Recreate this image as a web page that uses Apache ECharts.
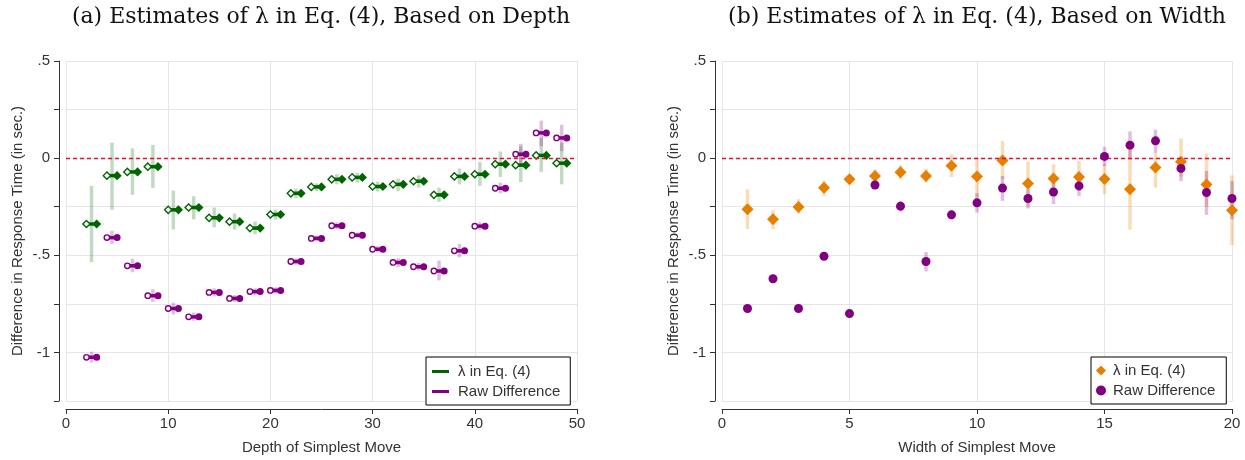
<!DOCTYPE html>
<html><head><meta charset="utf-8">
<script src="https://cdn.jsdelivr.net/npm/echarts@6/dist/echarts.min.js"></script>
<style>html,body{margin:0;padding:0;background:#fff}#main{width:1245px;height:460px}</style>
</head><body><div id="main"></div>
<script>
// ---- Panel (a): Depth ----
const depthX = [2.5,4.5,6.5,8.5,10.5,12.5,14.5,16.5,18.5,20.5,22.5,24.5,26.5,28.5,30.5,32.5,34.5,36.5,38.5,40.5,42.5,44.5,46.5,48.5];
const lambdaDepth   = [-0.339,-0.090,-0.071,-0.044,-0.266,-0.254,-0.307,-0.327,-0.360,-0.290,-0.181,-0.148,-0.109,-0.099,-0.146,-0.135,-0.119,-0.189,-0.094,-0.083,-0.031,-0.036,0.014,-0.026];
const lambdaDepthLo = [-0.535,-0.266,-0.189,-0.153,-0.367,-0.315,-0.356,-0.368,-0.392,-0.317,-0.205,-0.170,-0.135,-0.126,-0.172,-0.169,-0.152,-0.225,-0.135,-0.143,-0.097,-0.123,-0.072,-0.135];
const lambdaDepthHi = [-0.143,0.080,0.050,0.068,-0.167,-0.196,-0.254,-0.285,-0.326,-0.264,-0.157,-0.130,-0.083,-0.075,-0.121,-0.105,-0.089,-0.152,-0.053,-0.020,0.034,0.061,0.104,0.079];
const rawDepth   = [-1.025,-0.409,-0.554,-0.708,-0.774,-0.817,-0.691,-0.722,-0.687,-0.681,-0.532,-0.413,-0.348,-0.397,-0.469,-0.537,-0.559,-0.581,-0.477,-0.350,-0.155,0.020,0.130,0.104];
const rawDepthLo = [-1.052,-0.442,-0.587,-0.740,-0.805,-0.837,-0.712,-0.740,-0.705,-0.697,-0.548,-0.428,-0.365,-0.412,-0.485,-0.560,-0.578,-0.629,-0.510,-0.370,-0.181,-0.032,0.061,0.036];
const rawDepthHi = [-0.996,-0.374,-0.518,-0.675,-0.744,-0.795,-0.670,-0.705,-0.670,-0.665,-0.516,-0.398,-0.330,-0.382,-0.453,-0.515,-0.540,-0.527,-0.442,-0.330,-0.126,0.074,0.193,0.172];

// ---- Panel (b): Width ----
const widthX = [1,2,3,4,5,6,7,8,9,10,11,12,13,14,15,16,17,18,19,20];
const lambdaWidth   = [-0.263,-0.315,-0.251,-0.152,-0.109,-0.092,-0.073,-0.092,-0.039,-0.095,-0.012,-0.130,-0.105,-0.097,-0.107,-0.160,-0.048,-0.018,-0.136,-0.268];
const lambdaWidthLo = [-0.365,-0.365,-0.288,-0.194,-0.135,-0.126,-0.109,-0.126,-0.097,-0.200,-0.110,-0.246,-0.177,-0.169,-0.186,-0.368,-0.152,-0.095,-0.250,-0.447];
const lambdaWidthHi = [-0.160,-0.268,-0.211,-0.114,-0.085,-0.058,-0.036,-0.054,0.019,0.005,0.090,-0.018,-0.032,-0.015,-0.032,0.053,0.027,0.101,0.024,-0.089];
const rawWidth   = [-0.774,-0.621,-0.774,-0.505,-0.800,-0.138,-0.247,-0.532,-0.292,-0.230,-0.154,-0.208,-0.174,-0.143,0.009,0.067,0.089,-0.053,-0.177,-0.208];
const rawWidthLo = [-0.785,-0.632,-0.785,-0.516,-0.811,-0.150,-0.275,-0.583,-0.315,-0.280,-0.220,-0.259,-0.237,-0.194,-0.041,-0.007,0.027,-0.118,-0.292,-0.314];
const rawWidthHi = [-0.763,-0.610,-0.763,-0.494,-0.789,-0.126,-0.220,-0.484,-0.270,-0.181,-0.092,-0.160,-0.126,-0.100,0.058,0.138,0.147,-0.007,-0.066,-0.118];

// ---- Texts & ticks ----
const titleA = '(a) Estimates of \u03bb in Eq. (4), Based on Depth';
const titleB = '(b) Estimates of \u03bb in Eq. (4), Based on Width';
const yTitle = 'Difference in Response Time (in sec.)';
const xTitleA = 'Depth of Simplest Move';
const xTitleB = 'Width of Simplest Move';
const nameLambda = '\u03bb in Eq. (4)';
const nameRaw = 'Raw Difference';
const yTickValues = [0.5, 0, -0.5, -1];
const yTickLabels = ['.5', '0', '-.5', '-1'];

const GREEN = '#006400', PURPLE = '#800080', ORANGE = '#e67e00';
const SANS = 'Liberation Sans, Arial, sans-serif';
const SERIF = 'DejaVu Serif, serif';
const HALF = 0.5; // half-spacing between hollow/filled markers (data units)

function diamondPts(p, r) { return [[p[0], p[1]-r],[p[0]+r, p[1]],[p[0], p[1]+r],[p[0]-r, p[1]]]; }

function ciSeries(xs, lo, hi, color, gi, withRef) {
  const s = {
    type: 'custom', xAxisIndex: gi, yAxisIndex: gi, silent: true, z: 2,
    data: xs.map((x, i) => [x, lo[i], hi[i]]),
    encode: { x: 0, y: [1, 2] },
    renderItem: (params, api) => {
      const a = api.coord([api.value(0), api.value(1)]);
      const b = api.coord([api.value(0), api.value(2)]);
      return { type: 'line', shape: { x1: a[0], y1: a[1], x2: b[0], y2: b[1] }, style: { stroke: color, lineWidth: 3.5 } };
    }
  };
  if (withRef) {
    s.markLine = { silent: true, symbol: 'none', label: { show: false },
      lineStyle: { color: '#dc143c', type: [4, 3], width: 1.3 }, data: [{ yAxis: 0 }] };
  }
  return s;
}

function dumbbell(name, xs, ys, color, shape, gi) {
  return {
    type: 'custom', name, xAxisIndex: gi, yAxisIndex: gi, z: 4, itemStyle: { color },
    data: xs.map((x, i) => [x, ys[i]]), encode: { x: 0, y: 1 },
    renderItem: (params, api) => {
      const c = api.value(0), v = api.value(1);
      const L = api.coord([c - HALF, v]), R = api.coord([c + HALF, v]);
      const ch = [{ type: 'line', shape: { x1: L[0], y1: L[1], x2: R[0], y2: R[1] }, style: { stroke: color, lineWidth: 3.5 } }];
      if (shape === 'diamond') {
        ch.push({ type: 'polygon', shape: { points: diamondPts(L, 3.6) }, style: { fill: '#fff', stroke: color, lineWidth: 1.4 } });
        ch.push({ type: 'polygon', shape: { points: diamondPts(R, 4.6) }, style: { fill: color } });
      } else {
        ch.push({ type: 'circle', shape: { cx: L[0], cy: L[1], r: 2.7 }, style: { fill: '#fff', stroke: color, lineWidth: 1.4 } });
        ch.push({ type: 'circle', shape: { cx: R[0], cy: R[1], r: 3.5 }, style: { fill: color } });
      }
      return { type: 'group', children: ch };
    }
  };
}

function yFmt(v) {
  const i = yTickValues.findIndex(t => Math.abs(t - v) < 1e-9);
  return i >= 0 ? yTickLabels[i] : '';
}

const axisCommon = {
  axisLine: { show: true, onZero: false, lineStyle: { color: '#333', width: 1 } },
  axisTick: { show: true, length: 5, lineStyle: { color: '#333', width: 1 } },
  splitLine: { show: true, lineStyle: { color: '#e6e6e6', width: 1 } },
  nameTextStyle: { fontSize: 15, color: '#333', fontFamily: SANS },
};

function xAxis(gi, max, interval, name) {
  return Object.assign({}, axisCommon, {
    gridIndex: gi, type: 'value', min: 0, max, interval, offset: 8,
    name, nameLocation: 'middle', nameGap: 31,
    axisLabel: { fontSize: 15, color: '#333', margin: 7, fontFamily: SANS },
  });
}
function yAxis(gi) {
  return Object.assign({}, axisCommon, {
    gridIndex: gi, type: 'value', min: -1.25, max: 0.5, interval: 0.25, offset: 7,
    name: yTitle, nameLocation: 'middle', nameGap: 34, nameRotate: 90,
    axisLabel: { fontSize: 15, color: '#333', margin: 9, fontFamily: SANS, formatter: yFmt },
  });
}

const chart = echarts.init(document.getElementById('main'), null, { renderer: 'canvas' });
chart.setOption({
  animation: false,
  backgroundColor: '#fff',
  grid: [
    { left: 66, top: 61, width: 511, height: 342 },
    { left: 722, top: 61, width: 510, height: 342 }
  ],
  xAxis: [xAxis(0, 50, 10, xTitleA), xAxis(1, 20, 5, xTitleB)],
  yAxis: [yAxis(0), yAxis(1)],
  graphic: [
    { type: 'text', x: 321, y: 17, style: { text: titleA, fontSize: 22, fontFamily: SERIF, fill: '#111', align: 'center', verticalAlign: 'middle' } },
    { type: 'text', x: 977, y: 17, style: { text: titleB, fontSize: 22, fontFamily: SERIF, fill: '#111', align: 'center', verticalAlign: 'middle' } }
  ],
  legend: [
    {
      left: 426, top: 357, orient: 'vertical', padding: [7, 10, 6, 6], itemGap: 5,
      itemWidth: 17, itemHeight: 3, borderColor: '#000', borderWidth: 1, backgroundColor: '#fff',
      textStyle: { fontSize: 15, color: '#333', fontFamily: SANS, padding: [0, 0, 0, 4] },
      selectedMode: false,
      data: [
        { name: nameLambda, icon: 'rect', itemStyle: { color: GREEN } },
        { name: nameRaw, icon: 'rect', itemStyle: { color: PURPLE } }
      ]
    },
    {
      left: 1091, top: 357, orient: 'vertical', padding: [6, 11, 6, 5], itemGap: 5,
      itemWidth: 10, itemHeight: 10, borderColor: '#000', borderWidth: 1, backgroundColor: '#fff',
      textStyle: { fontSize: 15, color: '#333', fontFamily: SANS, padding: [0, 0, 0, 2] },
      selectedMode: false,
      data: [
        { name: nameLambda, icon: 'diamond', itemStyle: { color: ORANGE } },
        { name: nameRaw, icon: 'circle', itemStyle: { color: PURPLE } }
      ]
    }
  ],
  series: [
    ciSeries(depthX, lambdaDepthLo, lambdaDepthHi, 'rgba(0,100,0,0.24)', 0, true),
    ciSeries(depthX, rawDepthLo, rawDepthHi, 'rgba(128,0,128,0.25)', 0, false),
    dumbbell(nameLambda, depthX, lambdaDepth, GREEN, 'diamond', 0),
    dumbbell(nameRaw, depthX, rawDepth, PURPLE, 'circle', 0),
    ciSeries(widthX, lambdaWidthLo, lambdaWidthHi, 'rgba(235,130,0,0.28)', 1, true),
    ciSeries(widthX, rawWidthLo, rawWidthHi, 'rgba(128,0,128,0.25)', 1, false),
    { type: 'scatter', name: nameLambda, xAxisIndex: 1, yAxisIndex: 1, z: 4, symbol: 'diamond', symbolSize: 12,
      itemStyle: { color: ORANGE, opacity: 1 }, data: widthX.map((x, i) => [x, lambdaWidth[i]]) },
    { type: 'scatter', name: nameRaw, xAxisIndex: 1, yAxisIndex: 1, z: 5, symbol: 'circle', symbolSize: 9,
      itemStyle: { color: PURPLE, opacity: 1 }, data: widthX.map((x, i) => [x, rawWidth[i]]) }
  ]
});
</script>
</body></html>
